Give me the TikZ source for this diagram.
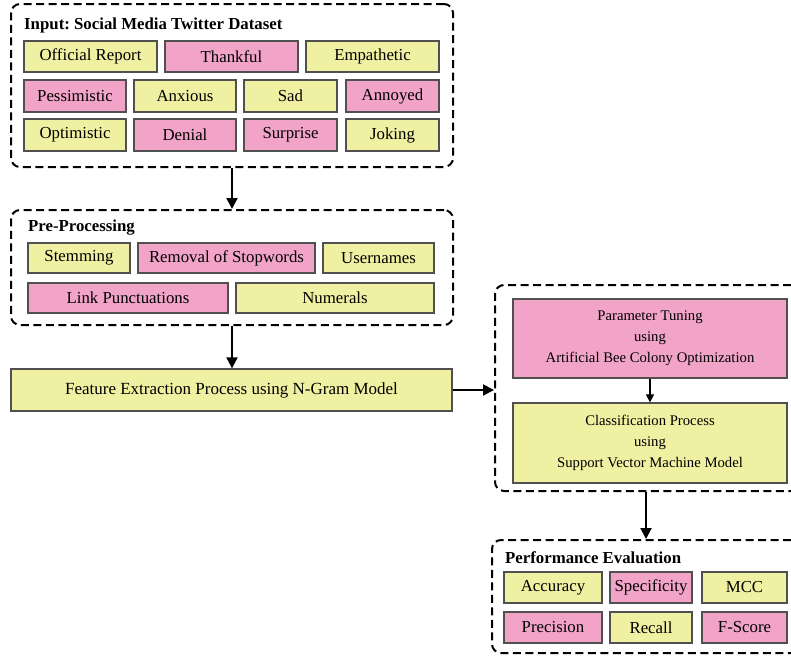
\documentclass[tikz,border=0pt]{standalone}
\usepackage{fontspec}
\setmainfont{Liberation Serif}
\usetikzlibrary{arrows.meta}
\frenchspacing
\definecolor{ylw}{RGB}{240,240,162}
\definecolor{pnk}{RGB}{242,164,200}
\definecolor{edge}{RGB}{80,80,80}
\tikzset{
  base/.style={draw=edge, line width=1.3pt, inner sep=0pt, align=center, font=\fontsize{16.8}{19}\selectfont},
  ybox/.style={base, fill=ylw},
  pbox/.style={base, fill=pnk},
  group/.style={draw=black, line width=2pt, dash pattern=on 8pt off 4.5pt, rounded corners=9pt, inner sep=0pt},
  gtitle/.style={anchor=west, inner sep=0pt, font=\fontsize{16.8}{19}\selectfont\bfseries},
  flow/.style={draw=black, line width=2pt, -{Triangle[length=11pt,width=11pt]}},
  thin/.style={draw=black, line width=1.2pt, -{Triangle[length=8pt,width=8pt]}}
}
\begin{document}
\begin{tikzpicture}[x=1pt,y=-1pt]
\useasboundingbox (0,0) rectangle (791,656);
\clip (0,0) rectangle (791,656);
% Input group
\node[group, minimum width=442, minimum height=163] (inbox) at (232,85.5) {};
\node[gtitle] (intitle) at (24,25) {Input: Social Media Twitter Dataset};
\node[ybox, minimum width=133, minimum height=31] (offrep) at (90.5,56.5) {Official Report};
\node[pbox, minimum width=133, minimum height=31] (thank) at (231.5,56.5) {Thankful};
\node[ybox, minimum width=133, minimum height=31] (empat) at (372.5,56.5) {Empathetic};
\node[pbox, minimum width=102, minimum height=32] (pessim) at (75,96) {Pessimistic};
\node[ybox, minimum width=102, minimum height=32] (anx) at (185,96) {Anxious};
\node[ybox, minimum width=93, minimum height=32] (sad) at (290.5,96) {Sad};
\node[pbox, minimum width=93, minimum height=32] (annoy) at (392.5,96) {Annoyed};
\node[ybox, minimum width=102, minimum height=32] (optim) at (75,135) {Optimistic};
\node[pbox, minimum width=102, minimum height=32] (denial) at (185,135) {Denial};
\node[pbox, minimum width=93, minimum height=32] (surpr) at (290.5,135) {Surprise};
\node[ybox, minimum width=93, minimum height=32] (joke) at (392.5,135) {Joking};
% Pre-processing group
\node[group, minimum width=442, minimum height=115] (prebox) at (232,267.5) {};
\node[gtitle] (pretitle) at (28,228) {Pre-Processing};
\node[ybox, minimum width=102, minimum height=30] (stem) at (79,258) {Stemming};
\node[pbox, minimum width=177, minimum height=30] (stop) at (226.5,258) {Removal of Stopwords};
\node[ybox, minimum width=111, minimum height=30] (user) at (378.5,258) {Usernames};
\node[pbox, minimum width=200, minimum height=30] (punct) at (128,298) {Link Punctuations};
\node[ybox, minimum width=198, minimum height=30] (numer) at (335,298) {Numerals};
% Feature extraction
\node[ybox, minimum width=441, minimum height=42, font=\fontsize{17}{19}\selectfont] (feat) at (231.5,390) {Feature Extraction Process using N-Gram Model};
% Right group
\node[group, minimum width=305, minimum height=206] (rbox) at (647.5,388) {};
\node[pbox, minimum width=274, minimum height=79, font=\fontsize{14.7}{21}\selectfont] (tune) at (650,338.5) {Parameter Tuning\\using\\Artificial Bee Colony Optimization};
\node[ybox, minimum width=274, minimum height=80, font=\fontsize{14.7}{21}\selectfont] (svm) at (650,443) {Classification Process\\using\\Support Vector Machine Model};
% Performance group
\node[group, minimum width=308, minimum height=113] (perfbox) at (646,596.5) {};
\node[gtitle] (perftitle) at (505,558) {Performance Evaluation};
\node[ybox, minimum width=98, minimum height=31] (acc) at (553,587.5) {Accuracy};
\node[pbox, minimum width=82, minimum height=31] (spec) at (651,587.5) {Specificity};
\node[ybox, minimum width=85, minimum height=31] (mcc) at (744.5,587.5) {MCC};
\node[pbox, minimum width=98, minimum height=31] (prec) at (553,627.5) {Precision};
\node[ybox, minimum width=82, minimum height=31] (rec) at (651,627.5) {Recall};
\node[pbox, minimum width=85, minimum height=31] (fsc) at (744.5,627.5) {F-Score};
% Connectors
\draw[flow] (inbox.south) -- (prebox.north);
\draw[flow] (prebox.south) -- (prebox.south |- feat.north);
\draw[flow] (feat.east) -- (rbox.west |- feat.east);
\draw[thin] (tune.south) -- (svm.north);
\draw[flow] (rbox.south -| perfbox.north) -- (perfbox.north);
\end{tikzpicture}
\end{document}
